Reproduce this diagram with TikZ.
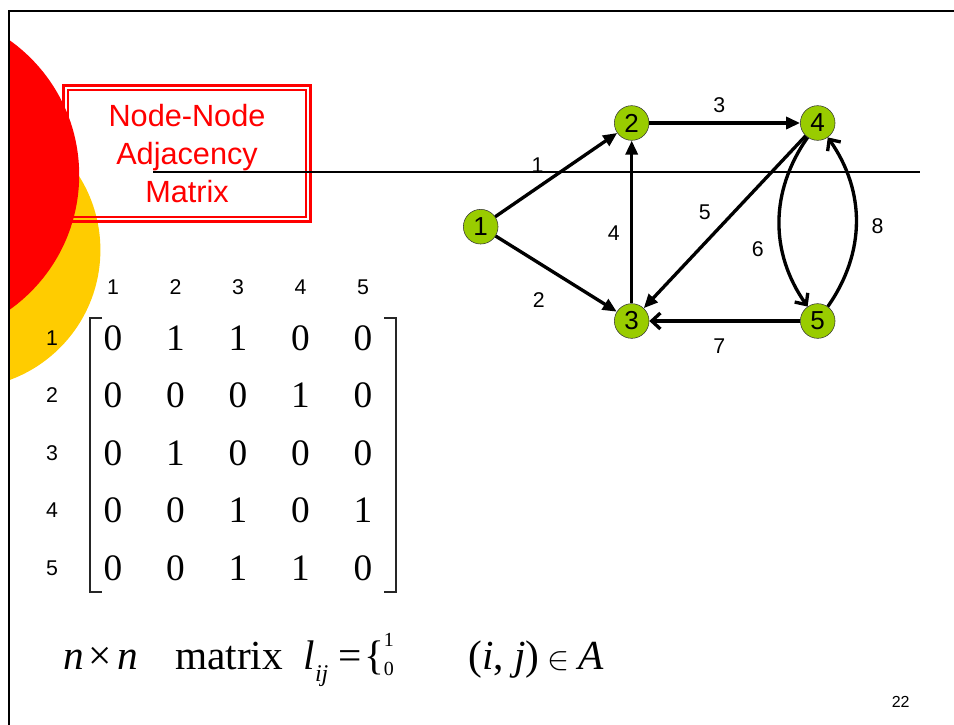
\documentclass[tikz,border=0pt]{standalone}
\usepackage{fontspec}
\setmainfont{Liberation Serif}
\setsansfont{Liberation Sans}
\usetikzlibrary{positioning, matrix, arrows.meta}

\definecolor{nodegreen}{HTML}{99CC00}
\definecolor{sunyellow}{HTML}{FFCC00}

\begin{document}
\begin{tikzpicture}[x=0.75pt, y=-0.75pt, node distance=2cm]
    \tikzstyle{vertex} = [circle, draw=black!80, thin, fill=nodegreen, minimum size=26pt, inner sep=0pt, font=\sffamily\fontsize{19.5}{19.5}\selectfont]
    \tikzstyle{arrow} = [line width=2.5pt, -{Triangle[length=10.5pt, width=9pt]}]
    \tikzstyle{openarrow} = [line width=2.5pt, -{Straight Barb[length=6.5pt, width=12pt]}]
    \tikzstyle{lbl} = [inner sep=0pt, font=\sffamily\fontsize{16}{16}\selectfont]
    \tikzstyle{entry} = [minimum width=46.9pt, minimum height=43.1pt, inner sep=0pt, font=\fontsize{28}{28}\selectfont]
    \tikzstyle{titlebox} = [draw=red, line width=1.2pt, text=red, align=center, minimum width=178.5pt, minimum height=95.25pt, font=\sffamily\fontsize{23}{28.5}\selectfont]
    \tikzstyle{bracket} = [line width=1.1pt, black!85]

    \useasboundingbox (0,0) rectangle (954,725);

    % Background discs
    \begin{scope}
        \clip (9,0) rectangle (954,725);
        \fill[sunyellow] (-38,250) circle (103.8pt);
        \fill[red] (-86,175) circle (123.9pt);
    \end{scope}

    % Slide frame
    \draw[line width=1.5pt] (9,725) -- (9,11) -- (954,11);

    % Title
    \node [titlebox] (title) at (187,153.5) {Node-Node\\Adjacency\\Matrix};
    \draw [red, line width=2.4pt] ([shift={(-4,4)}]title.south west) rectangle ([shift={(4,-4)}]title.north east);

    % Rule
    \draw [line width=0.9pt] (153,172) -- (920,172);

    % Graph
    \node [vertex] (n1) at (480.7,226.7) {1};
    \node [vertex] (n2) at (631.7,123) {2};
    \node [vertex, below of=n2, node distance=148.5pt] (n3) {3};
    \node [vertex, right of=n2, node distance=139.5pt] (n4) {4};
    \node [vertex, below of=n4, node distance=148.5pt] (n5) {5};

    \draw [arrow] (n1) -- node[lbl, xshift=-14pt, yshift=7pt] {1} (n2);
    \draw [arrow] (n1) -- node[lbl, xshift=-13pt, yshift=-19.5pt] {2} (n3);
    \draw [arrow] (n2) -- node[lbl, xshift=-4pt, yshift=13.5pt] {3} (n4);
    \draw [arrow] (n3) -- node[lbl, xshift=-13.5pt, yshift=-8pt] {4} (n2);
    \draw [arrow] (n4) -- node[lbl, xshift=-15pt, yshift=7.5pt] {5} (n3);
    \draw [openarrow] (n4) to[bend right=35] node[lbl, xshift=-16pt, yshift=-20pt] {6} (n5);
    \draw [openarrow] (n5) -- node[lbl, xshift=-4pt, yshift=-19pt] {7} (n3);
    \draw [openarrow] (n5) to[bend right=35] node[lbl, xshift=16pt, yshift=-3pt] {8} (n4);

    % Adjacency matrix
    \matrix (adj) [matrix of nodes, nodes={entry}, column sep=0pt, row sep=0pt] at (238,453) {
        0 & 1 & 1 & 0 & 0 \\
        0 & 0 & 0 & 1 & 0 \\
        0 & 1 & 0 & 0 & 0 \\
        0 & 0 & 1 & 0 & 1 \\
        0 & 0 & 1 & 1 & 0 \\
    };
    \foreach \j in {1,...,5}
        \node [lbl, above of=adj-1-\j, node distance=38pt] (col\j) {\j};
    \foreach \i in {1,...,5}
        \node [lbl, left of=adj-\i-1, node distance=45.75pt] (row\i) {\i};

    \draw [bracket] (102,318) -| (90,592) -- (102,592);
    \draw [bracket] (384,318) -| (396,592) -- (384,592);

    % Definition
    \node [anchor=base west, inner sep=0pt, font=\fontsize{31}{31}\selectfont] (defn) at (63,669)
        {\textit{n}\hspace{0.12em}×\hspace{0.12em}\textit{n}\hspace{0.9em}matrix\hspace{0.5em}\textit{l}\raisebox{-0.3em}{\fontsize{18}{18}\selectfont\textit{ij}}\hspace{0.25em}=\hspace{0.05em}\{\raisebox{-5pt}{\fontsize{15}{15}\selectfont\vbox{\hbox{1}\kern7pt\hbox{0}}}\hspace{1.8em}(\textit{i}, \textit{j})\hspace{0.2em}$\in$\hspace{0.2em}\textit{A}};

    % Page number
    \node [inner sep=0pt, font=\sffamily\fontsize{12}{12}\selectfont] (pagenum) at (900.7,701.7) {22};
\end{tikzpicture}
\end{document}
